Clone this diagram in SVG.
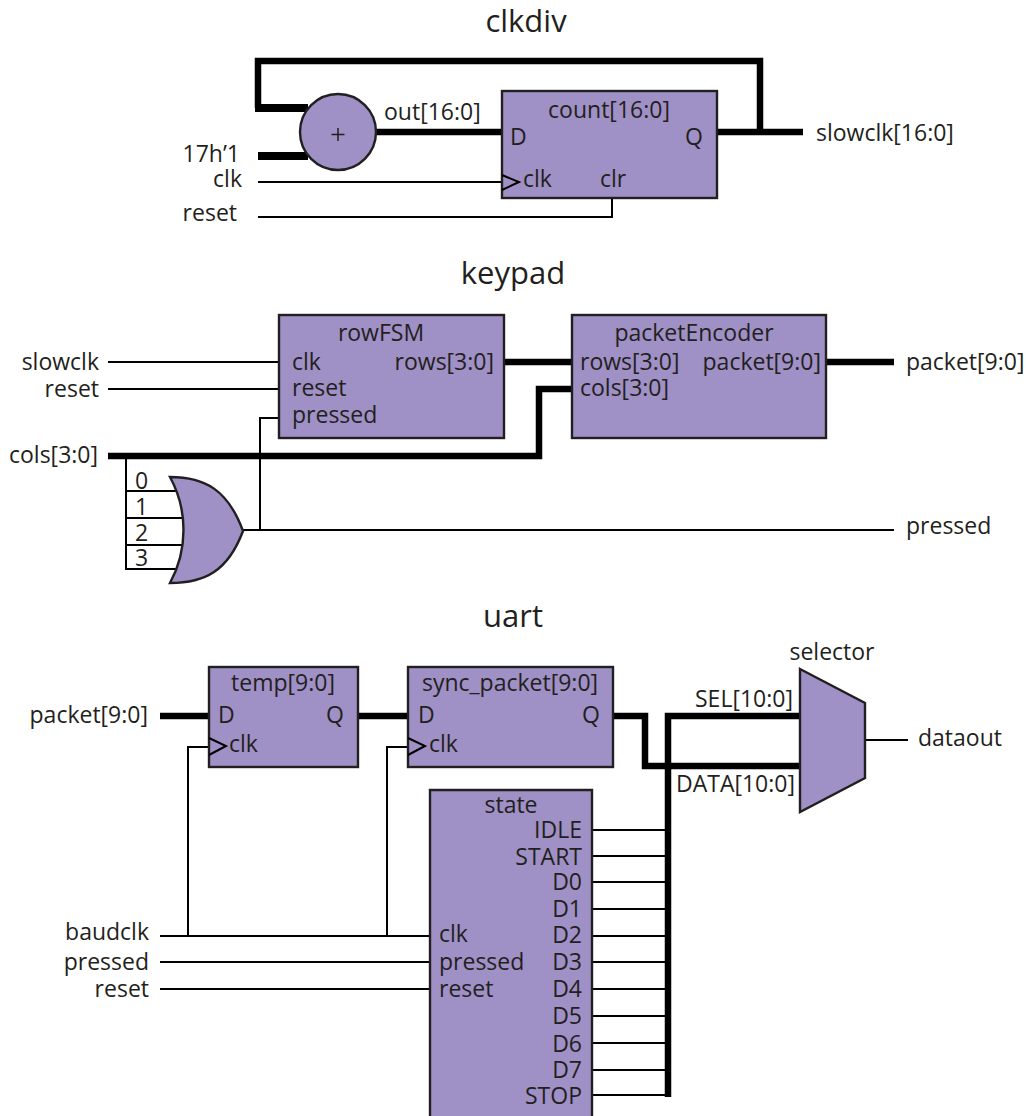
<svg xmlns="http://www.w3.org/2000/svg" width="1026" height="1116" viewBox="0 0 1026 1116">
<style>
text{font-family:"Open Sans","Noto Sans",sans-serif;font-size:23px;fill:#231f20}
.t{font-size:31px;text-anchor:middle}
.e{text-anchor:end}
.m{text-anchor:middle}
.b{fill:#9f90c6;stroke:#231f20;stroke-width:2.4}
.w{fill:none;stroke:#000;stroke-width:2}
.h{fill:none;stroke:#000;stroke-width:6.5}
</style>
<rect width="1026" height="1116" fill="#fff"/>
<g id="titles">
<text class="t" x="526" y="32">clkdiv</text>
<text class="t" x="513" y="284">keypad</text>
<text class="t" x="513" y="627">uart</text>
</g>
<g id="connectors">
<path class="h" d="M258 108V61H760V132M717 132H803M376 132H502"/>
<path class="h" d="M255 108H308" style="stroke-width:8"/>
<path class="h" d="M258 156H308" style="stroke-width:8"/>
<path class="w" d="M258 182H502M258 217H612V198"/>
<path class="w" d="M108 362H279M108 389H279M279 418H260V530M243 530H894M126 456V569H176M126 491H176M126 518H182M126 545H182"/>
<path class="h" d="M504 362H572M108 456H539V389H572M826 362H894"/>
<path class="h" d="M160 716H209M358 716H408M613 716H645V766H800M800 716H668V1097"/>
<path class="w" d="M865 740H908M160 936H430M188 936V747H209M387 936V747H408M160 962H430M160 989H430"/>
<path class="w" d="M592 830H668M592 856H668M592 882H668M592 909H668M592 936H668M592 962H668M592 989H668M592 1016H668M592 1043H668M592 1070H668M592 1095H668"/>
</g>
<g id="adder"><circle class="b" cx="338" cy="132" r="38"/><path d="M331.500 134.500H344.500M338 128V141" fill="none" stroke="#231f20" stroke-width="1.500"/></g>
<g id="count"><rect class="b" x="502" y="91" width="215" height="107"/><path class="w" d="M502 175L519 182L502 190"/>
<text class="m" x="609" y="118">count[16:0]</text><text x="510" y="145">D</text><text x="685" y="145">Q</text><text x="523" y="187">clk</text><text x="600" y="187">clr</text></g>
<g id="clkdiv-labels"><text x="384" y="120">out[16:0]</text><text class="e" x="240" y="162">17h’1</text><text class="e" x="242" y="187">clk</text><text class="e" x="237" y="221">reset</text><text x="816" y="141">slowclk[16:0]</text></g>
<g id="rowFSM"><rect class="b" x="279" y="315" width="225" height="123"/>
<text class="m" x="381" y="341">rowFSM</text><text x="292" y="370">clk</text><text x="292" y="396">reset</text><text x="292" y="423">pressed</text><text class="e" x="494" y="370">rows[3:0]</text></g>
<g id="packetEncoder"><rect class="b" x="572" y="315" width="254" height="123"/>
<text class="m" x="694" y="341">packetEncoder</text><text x="580" y="370">rows[3:0]</text><text x="580" y="396">cols[3:0]</text><text class="e" x="821" y="370">packet[9:0]</text></g>
<g id="orgate"><path class="b" d="M170 477C205 477 228 490 243 531C228 571 205 583 170 583C188 550 188 510 170 477Z"/>
<text x="135" y="489">0</text><text x="135" y="515">1</text><text x="135" y="541">2</text><text x="135" y="566">3</text></g>
<g id="keypad-labels"><text class="e" x="99" y="370">slowclk</text><text class="e" x="99" y="397">reset</text><text class="e" x="98" y="463">cols[3:0]</text><text x="906" y="370">packet[9:0]</text><text x="906" y="534">pressed</text></g>
<g id="temp"><rect class="b" x="209" y="667" width="149" height="100"/><path class="w" d="M209 738L226 746L209 755"/>
<text class="m" x="283" y="691">temp[9:0]</text><text x="218" y="723">D</text><text x="326" y="723">Q</text><text x="229" y="752">clk</text></g>
<g id="sync_packet"><rect class="b" x="408" y="667" width="205" height="100"/><path class="w" d="M408 738L425 746L408 755"/>
<text class="m" x="510" y="691">sync_packet[9:0]</text><text x="418" y="723">D</text><text x="582" y="723">Q</text><text x="429" y="752">clk</text></g>
<g id="selector"><path class="b" d="M800 669L865 703V778L800 812Z"/></g>
<g id="state"><path class="b" d="M430 1118V790H592V1118"/>
<text class="m" x="511" y="813">state</text>
<text class="e" x="582" y="838">IDLE</text><text class="e" x="582" y="865">START</text><text class="e" x="582" y="890">D0</text><text class="e" x="582" y="917">D1</text><text class="e" x="582" y="943">D2</text><text class="e" x="582" y="970">D3</text><text class="e" x="582" y="997">D4</text><text class="e" x="582" y="1024">D5</text><text class="e" x="582" y="1052">D6</text><text class="e" x="582" y="1078">D7</text><text class="e" x="582" y="1104">STOP</text>
<text x="439" y="942">clk</text><text x="439" y="970">pressed</text><text x="439" y="997">reset</text></g>
<g id="uart-labels"><text class="e" x="148" y="723">packet[9:0]</text><text class="e" x="149" y="940">baudclk</text><text class="e" x="149" y="970">pressed</text><text class="e" x="149" y="997">reset</text><text x="695" y="707">SEL[10:0]</text><text x="676" y="792">DATA[10:0]</text><text class="m" x="832" y="660">selector</text><text x="918" y="746">dataout</text></g>
</svg>
